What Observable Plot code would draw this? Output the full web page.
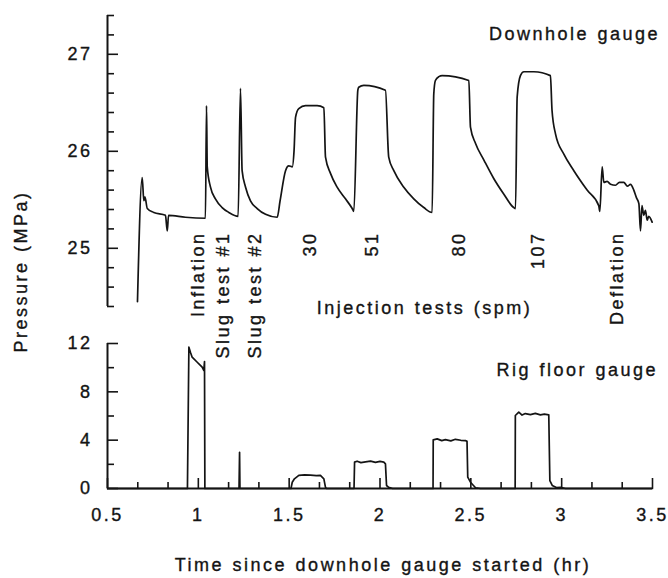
<!DOCTYPE html>
<html>
<head>
<meta charset="utf-8">
<script src="https://cdn.jsdelivr.net/npm/d3@7"></script>
<script src="https://cdn.jsdelivr.net/npm/@observablehq/plot@0.6"></script>
<style>
  body { margin: 0; background: #fff; }
  #chart { position: relative; width: 668px; height: 578px; background: #fff; }
  #chart svg { position: absolute; left: 0; }
  #chart text { stroke: #141414; stroke-width: 0.35px; }
</style>
</head>
<body>
<div id="chart"></div>
<script>
// Downhole gauge record: time since the gauge started (hr) and pressure (MPa)
const downholeTime = [
  0.665, 0.691, 0.700, 0.706, 0.719, 0.755, 0.819, 0.829, 0.836, 0.929, 1.039,
  1.045, 1.049, 1.067, 1.094, 1.131, 1.168, 1.219,
  1.232, 1.241, 1.260, 1.287, 1.324, 1.370, 1.434,
  1.450, 1.480, 1.498, 1.517, 1.527, 1.535, 1.553, 1.590, 1.654, 1.691,
  1.700, 1.728, 1.764, 1.810, 1.847, 1.856,
  1.878, 1.883, 1.911, 2.030, 2.048, 2.076, 2.131, 2.186, 2.241, 2.287,
  2.296, 2.305, 2.324, 2.342, 2.489, 2.498, 2.526, 2.572, 2.626, 2.681, 2.736, 2.746,
  2.755, 2.773, 2.792, 2.847, 2.938, 2.947, 2.966, 3.012, 3.067, 3.140, 3.204, 3.210,
  3.223, 3.232, 3.250, 3.269, 3.296, 3.318, 3.342, 3.362, 3.379, 3.397, 3.412, 3.425,
  3.434, 3.442, 3.452, 3.461, 3.471, 3.479, 3.498
];
const downholePressure = [
  24.45, 25.73, 25.49, 25.53, 25.41, 25.37, 25.34, 25.18, 25.34, 25.32, 25.31,
  26.47, 25.84, 25.63, 25.51, 25.42, 25.37, 25.33,
  26.65, 25.80, 25.63, 25.49, 25.41, 25.35, 25.32,
  25.49, 25.80, 25.85, 25.84, 26.01, 26.35, 26.44, 26.47, 26.47, 26.45,
  25.94, 25.77, 25.63, 25.51, 25.41, 25.38,
  26.63, 26.66, 26.68, 26.63, 25.94, 25.80, 25.63, 25.51, 25.42, 25.37,
  26.59, 26.73, 26.77, 26.78, 26.73, 26.25, 26.08, 25.91, 25.72, 25.56, 25.42, 25.41,
  26.56, 26.78, 26.82, 26.82, 26.78, 26.42, 26.18, 25.97, 25.80, 25.60, 25.44, 25.38,
  25.84, 25.68, 25.69, 25.66, 25.65, 25.68, 25.68, 25.64, 25.66, 25.60, 25.52, 25.46,
  25.18, 25.44, 25.34, 25.39, 25.29, 25.33, 25.27
];

// Rig floor gauge record: time (hr) and pressure (MPa)
const rigTime = [
  0.500, 0.940, 0.948, 0.957, 0.966, 0.994, 1.021, 1.030, 1.034, 1.036,
  1.224, 1.227, 1.229,
  1.510, 1.517, 1.529, 1.553, 1.585, 1.617, 1.650, 1.672, 1.691, 1.700, 1.705,
  1.857, 1.860, 1.874, 1.895, 1.920, 1.948, 1.975, 2.000, 2.021, 2.030, 2.036, 2.048, 2.069,
  2.292, 2.293, 2.315, 2.340, 2.360, 2.390, 2.415, 2.445, 2.470, 2.479, 2.483, 2.498, 2.526, 2.553,
  2.744, 2.745, 2.764, 2.782, 2.800, 2.828, 2.855, 2.883, 2.905, 2.929, 2.935, 2.948, 2.971, 2.994, 3.021,
  3.500
];
const rigPressure = [
  0, 0, 11.7, 11.26, 10.87, 10.45, 10.04, 9.77, 10.5, 0,
  0, 3.0, 0,
  0, 0.52, 0.80, 1.08, 1.12, 1.10, 1.06, 1.08, 0.80, 0.10, 0,
  0, 2.18, 2.26, 2.14, 2.20, 2.27, 2.16, 2.24, 2.18, 2.04, 0.25, 0.10, 0,
  0, 4.03, 4.11, 3.96, 4.05, 3.94, 4.07, 3.99, 3.97, 3.90, 0.94, 0.52, 0.06, 0,
  0, 6.04, 6.32, 6.08, 6.20, 6.12, 6.22, 6.09, 6.16, 6.10, 0.66, 0.25, 0.08, 0.10, 0,
  0
];

// Test events and the times they are marked at
const eventLabels = ["Inflation", "Slug test #1", "Slug test #2", "30", "51", "80", "107", "Deflation"];
const eventTimes = [1.001, 1.139, 1.315, 1.617, 1.959, 2.438, 2.872, 3.307];
const injectionRates = ["30", "51", "80", "107"];

// Axis tick labels
const downholeTicks = [25, 26, 27];
const rigTicks = [0, 4, 8, 12];
const timeTicks = [0.5, 1, 1.5, 2, 2.5, 3, 3.5];

const font = "'Liberation Sans', Arial, Helvetica, sans-serif";
const ink = "#141414";
const width = 668, marginLeft = 107, marginRight = 16;
const frameW = width - marginLeft - marginRight;
const xDomain = [0.5, 3.5];
const baseStyle = {
  fontFamily: font, fontSize: "18px", letterSpacing: "2.5px", wordSpacing: "1px",
  color: ink, background: "transparent", overflow: "visible"
};
const label = {fill: ink, lineAnchor: "middle"};

// Minor tick positions
const downholeMinor = d3.ticks(24.4, 27.4, 15).map(v => +v.toFixed(1));
const rigMinor = d3.range(0, 13, 2);
const timeMinor = d3.range(0, 19).map(i => 0.5 + i / 6);

// ---- Upper panel: downhole gauge ----
const upperH = 320, upperMT = 15, upperMB = 14;
const injIdx = eventLabels.map((l, i) => injectionRates.includes(l) ? i : -1).filter(i => i >= 0);
const injCenter = (eventTimes[injIdx[0]] + eventTimes[injIdx[injIdx.length - 1]]) / 2;

const upperPanel = Plot.plot({
  width, height: upperH, marginLeft, marginRight, marginTop: upperMT, marginBottom: upperMB,
  style: baseStyle,
  x: {domain: xDomain, axis: null},
  y: {domain: [24.4, 27.4], axis: null},
  marks: [
    Plot.ruleX([0.5], {stroke: ink, strokeWidth: 2}),
    Plot.tickY(downholeMinor.filter(v => !downholeTicks.includes(v)), {y: d => d, stroke: ink, strokeWidth: 1.6, insetRight: frameW - 7}),
    Plot.tickY(downholeTicks, {y: d => d, stroke: ink, strokeWidth: 1.6, insetRight: frameW - 11}),
    Plot.axisY({ticks: downholeTicks, tickSize: 0, tickPadding: 15, label: null, fill: ink, tickFormat: d => String(d)}),
    Plot.line(downholeTime, {x: downholeTime, y: downholePressure, curve: "monotone-x", stroke: ink, strokeWidth: 1.7, strokeLinejoin: "round"}),
    Plot.text(eventLabels, {...label, x: eventTimes, text: d => d, frameAnchor: "bottom", dy: -75, rotate: -90, textAnchor: "end"}),
    Plot.text(["Injection tests (spm)"], {...label, x: [injCenter], text: d => d, frameAnchor: "bottom", textAnchor: "middle", dy: 2}),
    Plot.text(["Downhole gauge"], {...label, frameAnchor: "top-right", text: d => d, textAnchor: "end", dx: 7.5, dy: 19}),
    Plot.text(["Pressure (MPa)"], {...label, frameAnchor: "bottom-left", text: d => d, rotate: -90, textAnchor: "middle", dx: -86, dy: -35})
  ]
});
upperPanel.style.top = "0px";

// ---- Lower panel: rig floor gauge ----
const lowerTop = 320, lowerH = 258, lowerMT = 23, lowerMB = 90;
const lowerFrameH = lowerH - lowerMT - lowerMB;
const lowerPanel = Plot.plot({
  width, height: lowerH, marginLeft, marginRight, marginTop: lowerMT, marginBottom: lowerMB,
  style: baseStyle,
  x: {domain: xDomain, axis: null},
  y: {domain: [0, 12], axis: null},
  marks: [
    Plot.ruleX([0.5], {stroke: ink, strokeWidth: 2}),
    Plot.ruleY([0], {stroke: ink, strokeWidth: 2}),
    Plot.tickY(rigMinor.filter(v => !rigTicks.includes(v)), {y: d => d, stroke: ink, strokeWidth: 1.6, insetRight: frameW - 7}),
    Plot.tickY(rigTicks, {y: d => d, stroke: ink, strokeWidth: 1.6, insetRight: frameW - 11}),
    Plot.tickX(timeMinor.filter((v, i) => i % 3 !== 0), {x: d => d, stroke: ink, strokeWidth: 1.6, insetTop: lowerFrameH - 6}),
    Plot.tickX(timeTicks, {x: d => d, stroke: ink, strokeWidth: 1.6, insetTop: lowerFrameH - 10}),
    Plot.axisY({ticks: rigTicks, tickSize: 0, tickPadding: 15, label: null, fill: ink, tickFormat: d => String(d)}),
    Plot.axisX({ticks: timeTicks, tickSize: 0, tickPadding: 20, label: null, fill: ink, tickFormat: d => String(d)}),
    Plot.line(rigTime, {x: rigTime, y: rigPressure, stroke: ink, strokeWidth: 1.7, strokeLinejoin: "round"}),
    Plot.text(["Rig floor gauge"], {...label, frameAnchor: "top-right", text: d => d, textAnchor: "end", dx: 5.5, dy: 27}),
    Plot.text(["Time since downhole gauge started (hr)"], {...label, frameAnchor: "bottom", text: d => d, textAnchor: "middle", dx: 3, dy: 77})
  ]
});
lowerPanel.style.top = lowerTop + "px";

const chart = document.getElementById("chart");
chart.appendChild(lowerPanel);
chart.appendChild(upperPanel);
</script>
</body>
</html>
